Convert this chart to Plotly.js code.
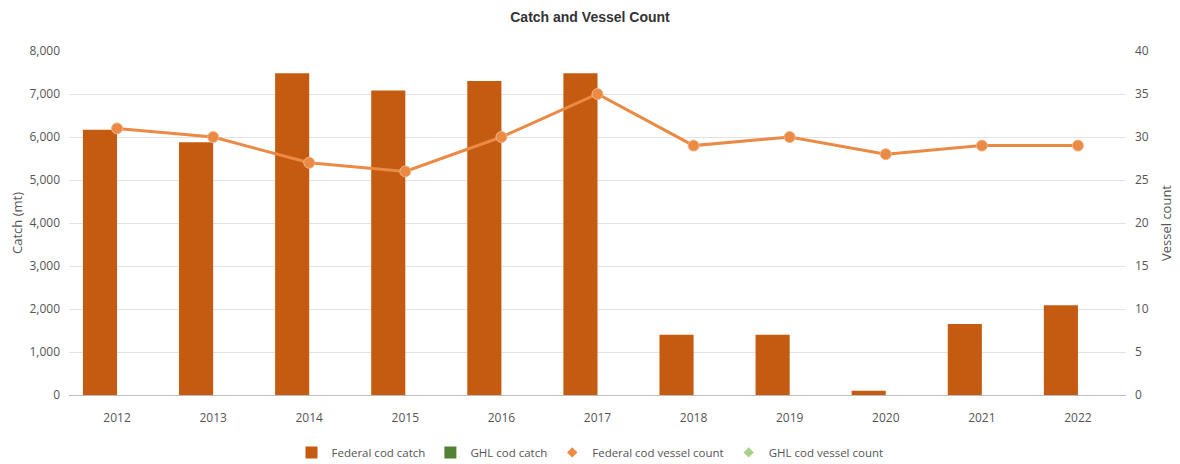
<!DOCTYPE html>
<html>
<head>
<meta charset="utf-8">
<script src="https://cdn.plot.ly/plotly-3.0.1.min.js"></script>
<style>html,body{margin:0;padding:0;background:#fff;}#chart{width:1180px;height:464px;}</style>
</head>
<body>
<div id="chart"></div>
<script>
const years = ["2012","2013","2014","2015","2016","2017","2018","2019","2020","2021","2022"];
const federalCatch = [6170, 5880, 7480, 7080, 7300, 7480, 1400, 1400, 100, 1650, 2090];
const ghlCatch = [null, null, null, null, null, null, null, null, null, null, null];
const federalVessels = [31, 30, 27, 26, 30, 35, 29, 30, 28, 29, 29];
const ghlVessels = [null, null, null, null, null, null, null, null, null, null, null];
const emptySeries = years.map(() => null);

const fam = "Open Sans, Noto Sans, sans-serif";
const tickFont = {family: fam, size: 12, color: "#555"};

const data = [
  {type: "bar", name: "Federal cod catch", x: years, y: federalCatch,
   marker: {color: "#C55A11"}, yaxis: "y"},
  {type: "bar", name: "GHL cod catch", x: years, y: ghlCatch,
   marker: {color: "#548235"}, yaxis: "y"},
  {type: "scatter", mode: "lines+markers", name: "Federal cod vessel count", x: years, y: federalVessels,
   line: {color: "#EA8A45", width: 3}, marker: {color: "#EA8A45", size: 11, line: {color: "#F3B487", width: 1}},
   yaxis: "y2", showlegend: false},
  {type: "scatter", mode: "markers", name: "Federal cod vessel count", x: years, y: emptySeries,
   marker: {color: "#EA8A45", size: 8, symbol: "diamond"}, yaxis: "y2", showlegend: true},
  {type: "scatter", mode: "markers", name: "GHL cod vessel count", x: years, y: ghlVessels,
   marker: {color: "#A9D18E", size: 8, symbol: "diamond"}, yaxis: "y2"}
];

const layout = {
  width: 1180, height: 464,
  margin: {l: 69, r: 54, t: 51, b: 69},
  paper_bgcolor: "#fff", plot_bgcolor: "#fff",
  title: {text: "<b>Catch and Vessel Count</b>", x: 0.5, xanchor: "center", y: 0.963, yanchor: "middle",
          font: {family: "Liberation Sans Narrow, Liberation Sans, Arial, sans-serif", size: 14, color: "#333"}},
  barmode: "group", bargap: 0.29, bargroupgap: 0,
  showlegend: true,
  legend: {orientation: "h", x: 0.5, xanchor: "center", xref: "container", y: 0.025, yanchor: "middle", yref: "container",
           font: {family: fam, size: 11.5, color: "#555"}, itemwidth: 30, tracegroupgap: 0},
  xaxis: {type: "category", tickfont: tickFont, showgrid: false, showline: true, linecolor: "#bdbdbd", linewidth: 1,
          ticks: "", ticklen: 0, range: [-0.5, 10.5], ticklabelstandoff: 12},
  yaxis: {range: [0, 8000], dtick: 1000, tickformat: ",d", tickfont: tickFont, gridcolor: "#e3e3e3", zeroline: false,
          ticks: "", ticklabelstandoff: 8,
          title: {text: "Catch (mt)", font: {family: fam, size: 13, color: "#555"}, standoff: 3}},
  yaxis2: {range: [0, 40], dtick: 5, overlaying: "y", side: "right", tickfont: tickFont, showgrid: false, zeroline: false,
           ticks: "", ticklabelstandoff: 8,
           title: {text: "Vessel count", font: {family: fam, size: 13, color: "#555"}, standoff: 14}}
};

Plotly.newPlot("chart", data, layout, {displayModeBar: false, staticPlot: true});
</script>
</body>
</html>
